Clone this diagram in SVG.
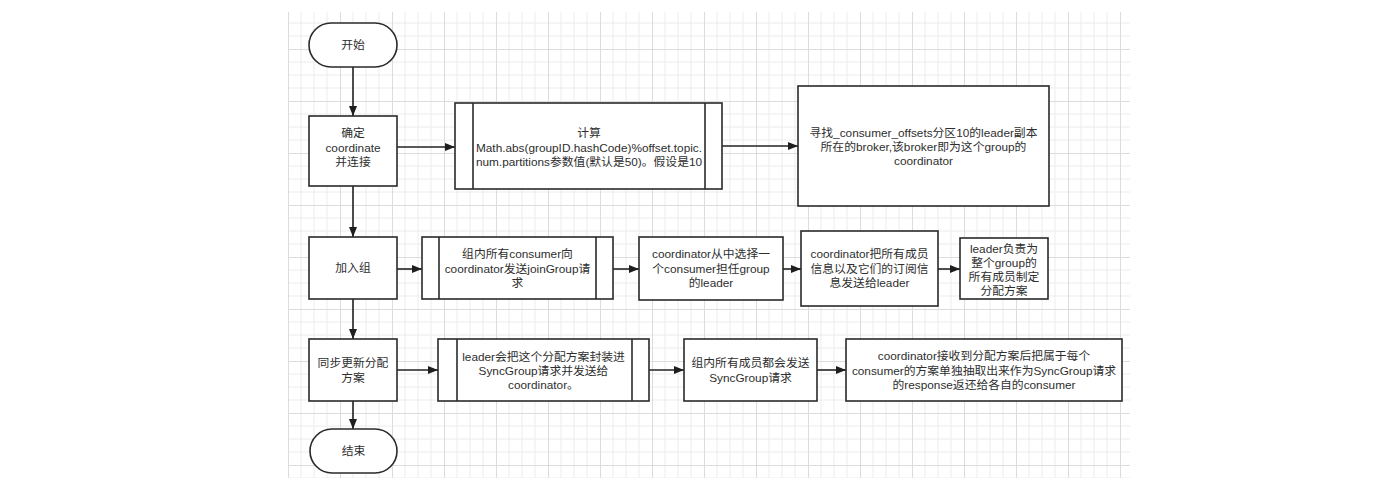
<svg xmlns="http://www.w3.org/2000/svg" width="1400" height="481" viewBox="0 0 1400 481">
<defs>
<pattern id="grid" patternUnits="userSpaceOnUse" x="288" y="-3" width="52" height="52">
<path d="M13 0V52M26 0V52M39 0V52M0 13H52M0 26H52M0 39H52" fill="none" stroke="#ececec" stroke-width="1"/>
<path d="M0.5 0V52M0 0.5H52" fill="none" stroke="#dcdcdc" stroke-width="1"/>
</pattern>
<marker id="arr" viewBox="0 0 10 8" refX="10" refY="4" markerWidth="10" markerHeight="8" markerUnits="userSpaceOnUse" orient="auto">
<path d="M0 0L10 4L0 8Z" fill="#1e1e1e"/>
</marker>
</defs>
<style>
.box{fill:#fff;stroke:#2a2a2a;stroke-width:1.6}
.inner{stroke:#2a2a2a;stroke-width:1.6}
.con{fill:none;stroke:#222;stroke-width:1.6;marker-end:url(#arr)}
text{font-family:"Liberation Sans","Noto Sans CJK SC",sans-serif;font-size:11.8px;fill:#2e2e2e;text-anchor:middle;dominant-baseline:central}
</style>
<rect width="1400" height="481" fill="#fff"/>
<rect x="288" y="12" width="842" height="466" fill="url(#grid)"/>

<g id="connectors">
<line class="con" x1="353" y1="67" x2="353" y2="116"/>
<line class="con" x1="397" y1="147" x2="455" y2="147"/>
<line class="con" x1="722" y1="146" x2="798" y2="146"/>
<line class="con" x1="353" y1="186" x2="353" y2="237"/>
<line class="con" x1="397" y1="269" x2="422" y2="269"/>
<line class="con" x1="613" y1="269" x2="639" y2="269"/>
<line class="con" x1="783" y1="269" x2="801" y2="269"/>
<line class="con" x1="938" y1="269" x2="960" y2="269"/>
<line class="con" x1="353" y1="299" x2="353" y2="339"/>
<line class="con" x1="397" y1="370" x2="438" y2="370"/>
<line class="con" x1="649" y1="370" x2="684" y2="370"/>
<line class="con" x1="817" y1="370" x2="846" y2="370"/>
<line class="con" x1="353" y1="401" x2="353" y2="429"/>
</g>

<g id="start">
<rect class="box" x="309" y="23" width="88" height="44" rx="22"/>
<text x="353" y="45">开始</text>
</g>

<g id="determine">
<rect class="box" x="309" y="116" width="88" height="70"/>
<text x="353" y="133">确定</text>
<text x="353" y="147.5">coordinate</text>
<text x="353" y="162">并连接</text>
</g>

<g id="compute">
<rect class="box" x="455" y="103" width="267" height="86"/>
<line class="inner" x1="473" y1="103" x2="473" y2="189"/>
<line class="inner" x1="705" y1="103" x2="705" y2="189"/>
<text x="589" y="133">计算</text>
<text x="589" y="147.5">Math.abs(groupID.hashCode)%offset.topic.</text>
<text x="589" y="162">num.partitions参数值(默认是50)。假设是10</text>
</g>

<g id="find">
<rect class="box" x="798" y="86" width="251" height="120"/>
<text x="923.5" y="132.5">寻找_consumer_offsets分区10的leader副本</text>
<text x="923.5" y="146.5">所在的broker,该broker即为这个group的</text>
<text x="923.5" y="160.5">coordinator</text>
</g>

<g id="join">
<rect class="box" x="309" y="237" width="88" height="62"/>
<text x="353" y="268">加入组</text>
</g>

<g id="sendjoin">
<rect class="box" x="422" y="237" width="191" height="62"/>
<line class="inner" x1="439" y1="237" x2="439" y2="299"/>
<line class="inner" x1="596" y1="237" x2="596" y2="299"/>
<text x="517.5" y="253.5">组内所有consumer向</text>
<text x="517.5" y="268.5">coordinator发送joinGroup请</text>
<text x="517.5" y="283">求</text>
</g>

<g id="choose">
<rect class="box" x="639" y="237" width="144" height="63"/>
<text x="711" y="253.5">coordinator从中选择一</text>
<text x="711" y="268.5">个consumer担任group</text>
<text x="711" y="283">的leader</text>
</g>

<g id="sendinfo">
<rect class="box" x="801" y="231" width="137" height="75"/>
<text x="869.5" y="253.5">coordinator把所有成员</text>
<text x="869.5" y="268.5">信息以及它们的订阅信</text>
<text x="869.5" y="283">息发送给leader</text>
</g>

<g id="plan">
<rect class="box" x="960" y="238" width="88" height="61"/>
<text x="1004" y="248.5">leader负责为</text>
<text x="1004" y="262.5">整个group的</text>
<text x="1004" y="276.5">所有成员制定</text>
<text x="1004" y="290.5">分配方案</text>
</g>

<g id="sync">
<rect class="box" x="309" y="339" width="88" height="62"/>
<text x="353" y="363">同步更新分配</text>
<text x="353" y="378">方案</text>
</g>

<g id="leadersend">
<rect class="box" x="438" y="339" width="211" height="62"/>
<line class="inner" x1="457" y1="339" x2="457" y2="401"/>
<line class="inner" x1="632" y1="339" x2="632" y2="401"/>
<text x="543.5" y="357">leader会把这个分配方案封装进</text>
<text x="543.5" y="371">SyncGroup请求并发送给</text>
<text x="543.5" y="385">coordinator。</text>
</g>

<g id="membersync">
<rect class="box" x="684" y="339" width="133" height="62"/>
<text x="750.5" y="363">组内所有成员都会发送</text>
<text x="750.5" y="377.5">SyncGroup请求</text>
</g>

<g id="response">
<rect class="box" x="846" y="339" width="276" height="62"/>
<text x="984" y="356">coordinator接收到分配方案后把属于每个</text>
<text x="984" y="370.5">consumer的方案单独抽取出来作为SyncGroup请求</text>
<text x="984" y="385">的response返还给各自的consumer</text>
</g>

<g id="end">
<rect class="box" x="310" y="429" width="87" height="44" rx="22"/>
<text x="353.5" y="451">结束</text>
</g>
</svg>
